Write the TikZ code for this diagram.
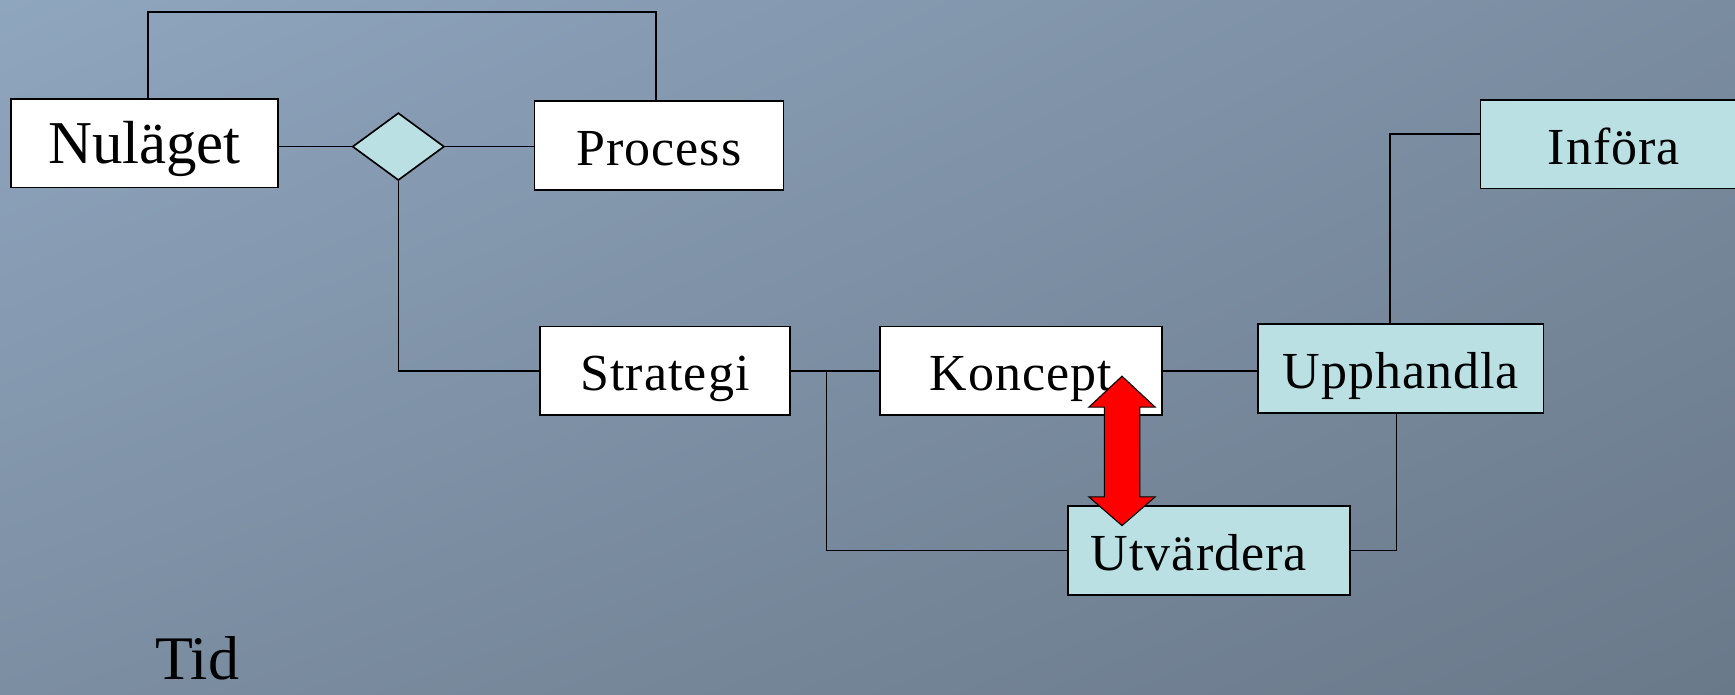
\documentclass[tikz,border=0pt]{standalone}
\usepackage{fontspec}
\setmainfont{Liberation Serif}
\usetikzlibrary{shapes.geometric,shadings}
\definecolor{bgul}{RGB}{143,166,191}
\definecolor{bgur}{RGB}{122,140,160}
\definecolor{bgll}{RGB}{124,142,162}
\definecolor{bglr}{RGB}{106,121,138}
\definecolor{boxcyan}{RGB}{186,224,228}

\begin{document}
\begin{tikzpicture}[x=1pt,y=-1pt,
    box/.style={draw,line width=1.5pt,fill=white,minimum height=80pt,inner sep=0pt,
        text height=36pt,text depth=0pt,font=\fontsize{47}{52}\selectfont\addfontfeature{LetterSpace=2}},
    cyanbox/.style={box,fill=boxcyan},
    conn/.style={line width=1.5pt}]
    \shade[upper left=bgul,upper right=bgur,lower left=bgll,lower right=bglr] (0,0) rectangle (1568,628);
    \useasboundingbox (0,0) rectangle (1568,628);
    % boxes
    \node[box,minimum width=241pt,font=\fontsize{55}{60}\selectfont] (nul) at (130.5,129.5) {Nuläget};
    \node[box,minimum width=225pt] (proc) at (595.5,131.5) {Process};
    \node[diamond,draw,line width=1.5pt,fill=boxcyan,minimum width=83pt,minimum height=61pt,inner sep=0pt] (dia) at (360,132.5) {};
    \node[box,minimum width=226pt] (str) at (601,335) {Strategi};
    \node[box,minimum width=255pt] (kon) at (922.5,335) {Koncept};
    \node[cyanbox,minimum width=258pt] (upp) at (1266,333) {Upphandla};
    \node[cyanbox,minimum width=255pt] (utv) at (1092.5,497.5) {Utvärdera\kern18pt};
    \node[cyanbox,minimum width=250pt] (inf) at (1463,130.5) {Införa\kern9pt};
    \node[font=\fontsize{56}{60}\selectfont,anchor=base west,inner sep=0pt] (tid) at (140,614) {Tid};
    % connectors
    \coordinate (topbar) at (360,11);
    \draw[conn] ([xshift=3.5pt]nul.north) |- (topbar) -| ([xshift=-2.5pt]proc.north);
    \draw[conn] (dia.west -| nul.east) -- (dia.west);
    \draw[conn] (dia.east) -- (dia.east -| proc.west);
    \draw[conn] (dia.south) |- (str.west);
    \draw[conn] (str.east) -- (kon.west);
    \coordinate (split) at (747,335);
    \draw[conn] (split) |- (utv.west);
    \draw[conn] (kon.east) -- (kon.east -| upp.west);
    \draw[conn] ([xshift=-4pt]upp.south) |- (utv.east);
    \draw[conn] ([xshift=-10pt]upp.north) |- ([yshift=9.5pt]inf.west);
    % red double arrow
    \filldraw[fill=red,line width=1pt] (1014,340) -- (1044,368) -- (1030,368) -- (1030,449) -- (1044,449)
        -- (1014,475) -- (984,449) -- (998,449) -- (998,368) -- (984,368) -- cycle;
\end{tikzpicture}
\end{document}
